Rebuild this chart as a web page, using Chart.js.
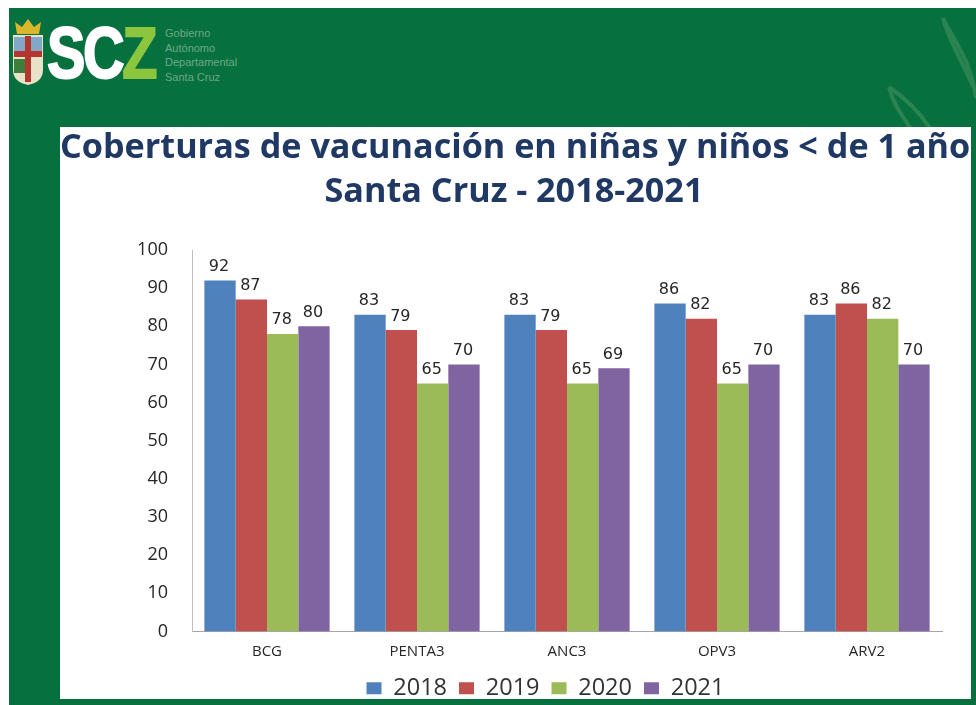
<!DOCTYPE html>
<html lang="es">
<head>
<meta charset="UTF-8">
<title>Coberturas de vacunación</title>
<script src="https://cdn.jsdelivr.net/npm/chart.js"></script>
<style>
    html, body { margin: 0; padding: 0; background: #fff; overflow: hidden; }
    #slide { position: absolute; left: 9px; top: 8px; width: 967px; height: 697px; background: #06703f; overflow: hidden; }
    #panel { position: absolute; left: 60px; top: 127px; width: 911px; height: 572px; background: #fff; }
    #chart { position: absolute; left: 0; top: 0; }
    #title { position: absolute; left: 0; top: -4px; width: 908px; text-align: center; margin: 0; white-space: nowrap;
        font: bold 34.2px/44px "Open Sans", sans-serif; color: #1f3864; }
    #leaves { position: absolute; left: 860px; top: 8px; }
    .scz { position: absolute; left: 47px; top: 15px; font: bold 72px/76px "Liberation Sans", sans-serif; letter-spacing: -3px; color: #fff;
        -webkit-text-stroke: 2px #fff; transform: scaleX(.8); transform-origin: left; }
    .scz span { color: #8cc63f; -webkit-text-stroke: 2px #8cc63f; }
    .gov { position: absolute; left: 165px; top: 26px; font: 11px/14.5px "Liberation Sans", sans-serif; color: #6fa984; }
    #shield { position: absolute; left: 11px; top: 18px; }
</style>
</head>
<body>
<div id="slide"></div>
<svg id="leaves" width="116" height="120" fill="none" stroke="#2a8350" stroke-width="4">
    <path d="M83 10 C 95 35, 110 50, 116 90"/>
    <path d="M83 10 C 88 30, 100 50, 114 80"/>
    <path d="M29 79 C 34 100, 45 110, 50 120"/>
    <path d="M29 79 C 45 90, 60 105, 70 120"/>
</svg>
<svg id="shield" width="34" height="68">
    <path d="M6 16 L4 4 L11 9 L17 1 L23 9 L30 4 L28 16 Z" fill="#d9b62c"/>
    <path d="M2 17 H32 V52 Q32 64 17 67 Q2 64 2 52 Z" fill="#e8e2c8"/>
    <rect x="3" y="19" width="11" height="14" fill="#7fa8c9"/>
    <rect x="20" y="19" width="11" height="14" fill="#7fa8c9"/>
    <rect x="14" y="18" width="6" height="46" fill="#b5352f"/>
    <rect x="3" y="33" width="28" height="6" fill="#b5352f"/>
    <rect x="3" y="41" width="11" height="14" fill="#3d7f3a"/>
</svg>
<div class="scz">SC<span>Z</span></div>
<div class="gov">Gobierno<br>Autónomo<br>Departamental<br>Santa Cruz</div>
<div id="panel">
    <canvas id="chart" width="911" height="583"></canvas>
    <h1 id="title"></h1>
</div>

<script>
    const categories = ['BCG', 'PENTA3', 'ANC3', 'OPV3', 'ARV2'];
    const years = ['2018', '2019', '2020', '2021'];
    const values2018 = [92, 83, 83, 86, 83];
    const values2019 = [87, 79, 79, 82, 86];
    const values2020 = [78, 65, 65, 65, 82];
    const values2021 = [80, 70, 69, 70, 70];
    const colors = ['#4f81bd', '#c0504d', '#9bbb59', '#8064a2'];
    const titleLines = ['Coberturas de vacunación en niñas y niños < de 1 año', 'Santa Cruz - 2018-2021'];
    const font = '"Open Sans", sans-serif';

    document.getElementById('title').innerHTML = titleLines.map(t => t.replace('<', '&lt;')).join('<br>');

    // values above each bar
    const barLabels = {
        id: 'barLabels',
        afterLayout(chart) {
            // legend sits right of the plot centre in the original
            chart.legend.left += 6;
            chart.legend.right += 6;
        },
        afterDatasetsDraw(chart) {
            const ctx = chart.ctx;
            ctx.save();
            ctx.font = '16px "DejaVu Sans", sans-serif';
            ctx.fillStyle = '#262626';
            ctx.textAlign = 'center';
            ctx.textBaseline = 'alphabetic';
            chart.data.datasets.forEach((ds, i) => {
                chart.getDatasetMeta(i).data.forEach((bar, j) => {
                    ctx.fillText(ds.data[j], bar.x - 1, bar.y - 9.5);
                });
            });
            ctx.restore();
        }
    };

    new Chart(document.getElementById('chart'), {
        type: 'bar',
        data: {
            labels: categories,
            datasets: [
                { label: years[0], data: values2018, backgroundColor: colors[0] },
                { label: years[1], data: values2019, backgroundColor: colors[1] },
                { label: years[2], data: values2020, backgroundColor: colors[2] },
                { label: years[3], data: values2021, backgroundColor: colors[3] }
            ]
        },
        options: {
            responsive: false,
            animation: false,
            layout: { padding: { left: 77, right: 29, top: 123, bottom: 0 } },
            datasets: { bar: { categoryPercentage: 0.835, barPercentage: 1 } },
            plugins: {
                tooltip: { enabled: false },
                title: { display: false },
                legend: {
                    position: 'bottom',
                    labels: {
                        font: { family: font, size: 23.5 },
                        color: '#333',
                        boxWidth: 15,
                        boxHeight: 12,
                        padding: 12
                    }
                }
            },
            scales: {
                x: {
                    grid: { display: false, drawTicks: false },
                    border: { color: '#a6a6a6' },
                    ticks: { color: '#262626', font: { family: font, size: 15 }, padding: 11 },
                    afterFit(scale) { scale.height = 33; }
                },
                y: {
                    min: 0,
                    max: 100,
                    grid: { display: false, drawTicks: false },
                    border: { color: '#bfbfbf' },
                    ticks: { stepSize: 10, color: '#262626', font: { family: font, size: 18 }, padding: 24 },
                    afterFit(scale) { scale.width = 55; }
                }
            }
        },
        plugins: [barLabels]
    });
</script>
</body>
</html>
